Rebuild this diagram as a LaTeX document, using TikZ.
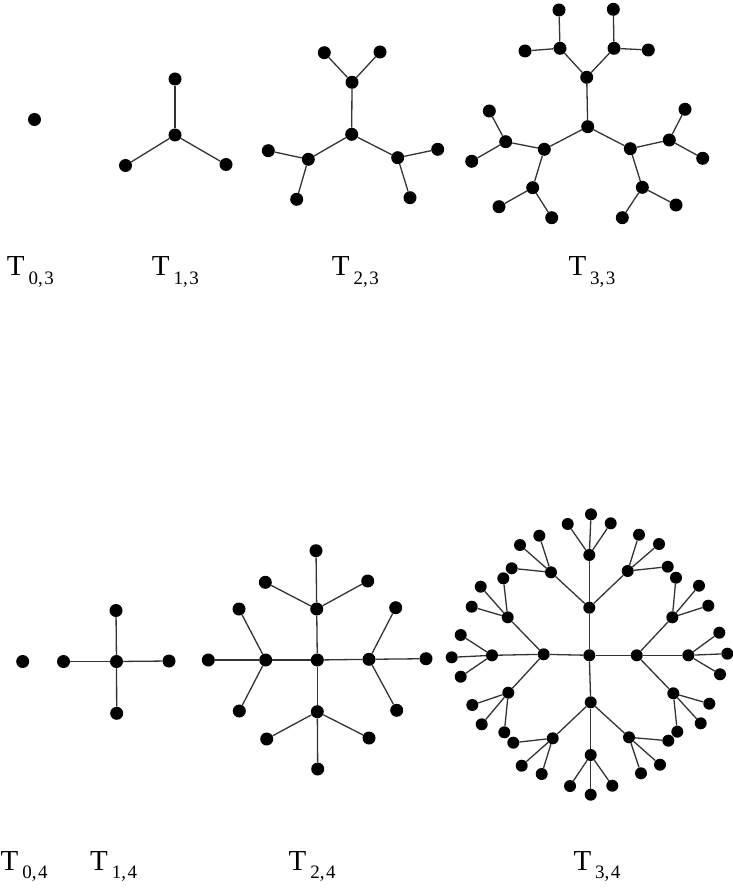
\documentclass[tikz,border=0pt]{standalone}
\usepackage{fontspec}
\setmainfont{Liberation Serif}
\newcommand\treelab[2]{{\fontsize{29}{29}\selectfont T}\kern4pt\raisebox{-8.5pt}{\fontsize{19}{19}\selectfont #1,\kern1.5pt#2}}
\newcommand\dotat[3]{\node[dotn] (#1) at (#2,#3) {};}
\newcommand\dotsm[3]{\node[dotn,minimum size=12] (#1) at (#2,#3) {};}
\tikzset{
  dotn/.style={circle,fill=black,draw=none,inner sep=0pt,minimum size=13},
  edge/.style={draw=black!80,line width=1.3},
  lab/.style={anchor=base west,inner sep=0pt}
}
\begin{document}
\begin{tikzpicture}[x=1pt,y=-1pt]
\useasboundingbox[fill=white] (0,0) rectangle (732,890);
% ---------- T_{0,3}
\dotat{a0}{34.5}{119.5}
% ---------- T_{1,3}
\dotat{b0}{175}{135}
\dotat{b1}{175}{79}
\dotat{b2}{125.5}{165.5}
\dotat{b3}{226}{164.5}
\foreach \n in {b1,b2,b3} \draw[edge] (b0) -- (\n);
% ---------- T_{2,3}
\dotat{c0}{351.7}{134.3}
\dotat{c1}{352}{82.3}
\dotat{c11}{324.3}{52.7}
\dotat{c12}{380}{52}
\dotat{c2}{308.3}{159.3}
\dotat{c21}{268.3}{150.7}
\dotat{c22}{296.7}{199.3}
\dotat{c3}{397.7}{157.7}
\dotat{c31}{437.7}{149.3}
\dotat{c32}{410}{197.7}
\foreach \n in {c1,c2,c3} \draw[edge] (c0) -- (\n);
\foreach \p in {c1,c2,c3} {\foreach \q in {1,2} \draw[edge] (\p) -- (\p\q);}
% ---------- T_{3,3}
\dotat{d0}{587.7}{126.7}
\dotat{d1}{586.7}{77.3}
\dotat{d11}{560}{48.3}
\dotat{d111}{559}{10}
\dotat{d112}{525}{51}
\dotat{d12}{614}{48.3}
\dotat{d121}{613.3}{9.3}
\dotat{d122}{648.3}{50}
\dotat{d2}{544.3}{149.3}
\dotat{d21}{505.7}{141.7}
\dotat{d211}{489.3}{111}
\dotat{d212}{471.7}{161.3}
\dotat{d22}{532.7}{187.7}
\dotat{d221}{499}{206.7}
\dotat{d222}{551.7}{217.7}
\dotat{d3}{630.3}{148.7}
\dotat{d31}{669.3}{140}
\dotat{d311}{685}{109.3}
\dotat{d312}{702.7}{158.3}
\dotat{d32}{642.3}{187.3}
\dotat{d321}{676}{205}
\dotat{d322}{622.3}{217.7}
\foreach \n in {d1,d2,d3} \draw[edge] (d0) -- (\n);
\foreach \p in {d1,d2,d3} {\foreach \q in {1,2} {\draw[edge] (\p) -- (\p\q);
  \foreach \r in {1,2} \draw[edge] (\p\q) -- (\p\q\r);}}
% ---------- labels top
\node[lab] (l03) at (6.7,275.7) {\treelab{0}{3}};
\node[lab] (l13) at (151.7,275.7) {\treelab{1}{3}};
\node[lab] (l23) at (331.7,275.7) {\treelab{2}{3}};
\node[lab] (l33) at (568.3,275.7) {\treelab{3}{3}};
% ---------- T_{0,4}
\dotat{e0}{22.7}{661.5}
% ---------- T_{1,4}
\dotat{f0}{116.5}{661.5}
\dotat{f1}{116}{610.5}
\dotat{f2}{63.5}{661.5}
\dotat{f3}{169}{661}
\dotat{f4}{116.7}{713.3}
\foreach \n in {f1,f2,f3,f4} \draw[edge] (f0) -- (\n);
% ---------- T_{2,4}
\dotat{g0}{317.3}{660}
\dotat{g1}{316.7}{609}
\dotat{g11}{316}{550.7}
\dotat{g12}{265.3}{582.3}
\dotat{g13}{367.7}{581}
\dotat{g2}{265.7}{660}
\dotat{g21}{208.3}{660}
\dotat{g22}{239}{609}
\dotat{g23}{239.3}{711}
\dotat{g3}{369}{659.3}
\dotat{g31}{426}{658.7}
\dotat{g32}{395.7}{607.7}
\dotat{g33}{396.7}{710.3}
\dotat{g4}{317.3}{711.7}
\dotat{g41}{317.7}{769}
\dotat{g42}{266.7}{739}
\dotat{g43}{369}{738}
\foreach \n in {g1,g2,g3,g4} \draw[edge] (g0) -- (\n);
\foreach \p in {g1,g2,g3,g4} {\foreach \q in {1,2,3} \draw[edge] (\p) -- (\p\q);}
% ---------- T_{3,4}
\dotsm{h0}{589.3}{655.3}
\dotsm{hT}{589.3}{607.7}
\dotsm{hR}{636.7}{655.3}
\dotsm{hB}{590.7}{702.3}
\dotsm{hL}{543.7}{654.3}
% top branch
\dotsm{hT1}{551}{572.3}
\dotsm{hT2}{589.3}{555}
\dotsm{hT3}{627.7}{571}
\dotsm{hT11}{539.3}{535.7}
\dotsm{hT12}{520}{545}
\dotsm{hT13}{511.7}{568.3}
\dotsm{hT21}{567.7}{524}
\dotsm{hT22}{591}{514.3}
\dotsm{hT23}{610.7}{523.3}
\dotsm{hT31}{639}{534.7}
\dotsm{hT32}{659}{544}
\dotsm{hT33}{667.7}{566.7}
% right branch
\dotsm{hR1}{672.3}{617.3}
\dotsm{hR2}{688.3}{655.3}
\dotsm{hR3}{673.3}{693.3}
\dotsm{hR11}{676}{577.7}
\dotsm{hR12}{699}{585.7}
\dotsm{hR13}{708.3}{605.7}
\dotsm{hR21}{719.3}{632.7}
\dotsm{hR22}{727.3}{653.7}
\dotsm{hR23}{720}{674.3}
\dotsm{hR31}{709.3}{703.7}
\dotsm{hR32}{700.7}{723.3}
\dotsm{hR33}{677.3}{731.7}
% bottom branch
\dotsm{hB1}{552.7}{738.3}
\dotsm{hB2}{590.7}{755}
\dotsm{hB3}{629}{737.3}
\dotsm{hB11}{513.3}{742.7}
\dotsm{hB12}{521.7}{765.7}
\dotsm{hB13}{541.7}{774}
\dotsm{hB21}{570}{786}
\dotsm{hB22}{590.7}{794.7}
\dotsm{hB23}{612.3}{785.7}
\dotsm{hB31}{668.3}{740.7}
\dotsm{hB32}{660}{764.7}
\dotsm{hB33}{641}{773.3}
% left branch
\dotsm{hL1}{507.7}{617.3}
\dotsm{hL2}{492}{655.3}
\dotsm{hL3}{508.3}{692.7}
\dotsm{hL11}{503.3}{578.3}
\dotsm{hL12}{480.7}{586.7}
\dotsm{hL13}{471.7}{606.7}
\dotsm{hL21}{460.7}{635}
\dotsm{hL22}{451.7}{657.3}
\dotsm{hL23}{460.7}{676.7}
\dotsm{hL31}{472.3}{705}
\dotsm{hL32}{481.7}{724.3}
\dotsm{hL33}{504.3}{732.3}
\foreach \n in {hT,hR,hB,hL} \draw[edge] (h0) -- (\n);
\foreach \p in {hT,hR,hB,hL} {\foreach \q in {1,2,3} {\draw[edge] (\p) -- (\p\q);
  \foreach \r in {1,2,3} \draw[edge] (\p\q) -- (\p\q\r);}}
% ---------- labels bottom
\node[lab] (l04) at (0.5,870) {\treelab{0}{4}};
\node[lab] (l14) at (90,870) {\treelab{1}{4}};
\node[lab] (l24) at (288.5,870) {\treelab{2}{4}};
\node[lab] (l34) at (573.3,870) {\treelab{3}{4}};
\end{tikzpicture}
\end{document}
